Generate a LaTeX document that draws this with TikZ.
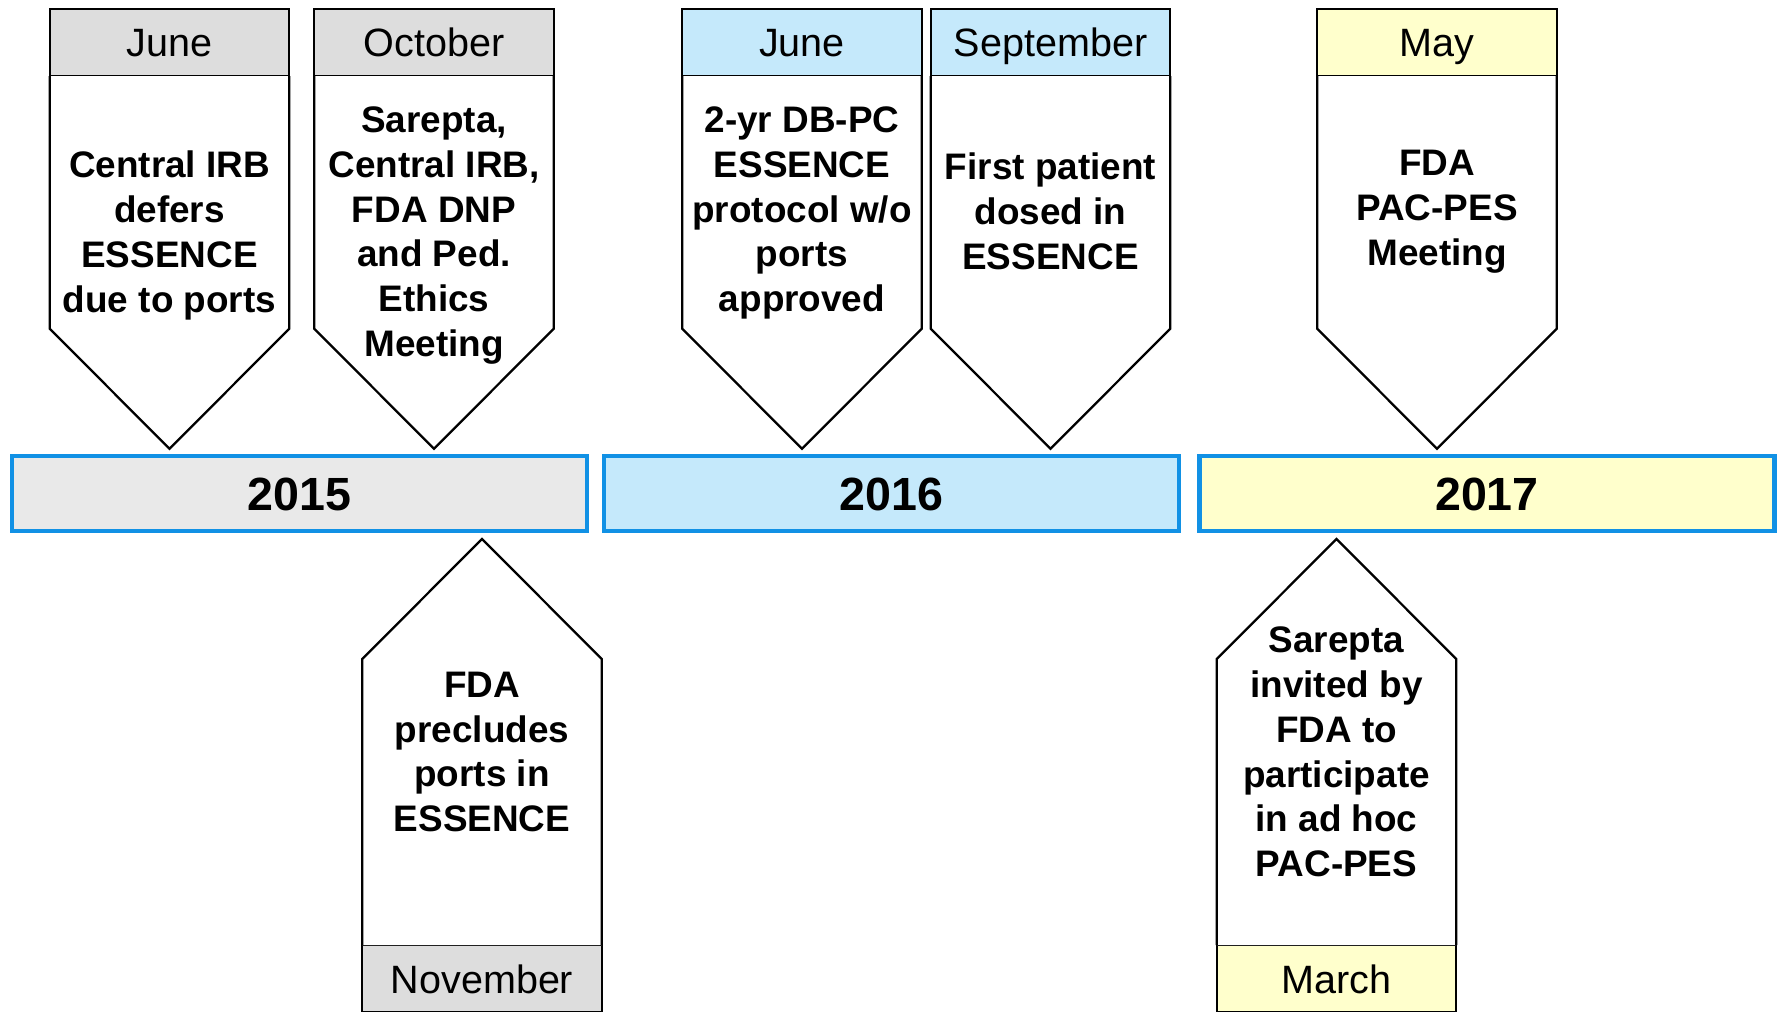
\documentclass[tikz,border=0pt]{standalone}
\usepackage{fontspec}
\setmainfont{Liberation Sans}
\usetikzlibrary{positioning,calc}
\definecolor{greyhead}{RGB}{221,221,221}
\definecolor{greybar}{RGB}{233,233,233}
\definecolor{bluehead}{RGB}{197,233,251}
\definecolor{yellowhead}{RGB}{255,255,204}
\definecolor{barline}{RGB}{17,145,229}
\tikzset{
    month/.style={rectangle, draw=black, line width=1.3pt, minimum width=4.79cm, minimum height=1.35cm, inner sep=0pt, outer sep=0pt, text height=0.57cm, text depth=0cm, font=\fontsize{22.5}{27}\selectfont},
    yearbar/.style={rectangle, draw=barline, line width=2.5pt, minimum width=11.5cm, minimum height=1.5cm, inner sep=0pt, text height=0.67cm, text depth=0cm, font=\fontsize{26.5}{32}\selectfont\bfseries},
    event/.style={align=center, inner sep=0pt, font=\fontsize{21}{25.5}\selectfont\bfseries},
    flag/.style={draw=black, line width=1.3pt, fill=white, line join=miter}
}

\begin{document}
\begin{tikzpicture}
    \useasboundingbox (0,0) rectangle (35.58,20.22);

    % Years
    \node [yearbar, fill=greybar] (y2015) at (5.99,10.35) {2015};
    \node [yearbar, fill=bluehead] (y2016) at (17.83,10.35) {2016};
    \node [yearbar, fill=yellowhead] (y2017) at (29.74,10.35) {2017};

    % Events above the timeline
    \node [month, fill=greyhead] (jun15) at (3.39,19.37) {June};
    \draw [flag] (jun15.south west) -- ++(0,-5.05) -- ++(2.395,-2.4) -- ++(2.395,2.4) -- (jun15.south east);
    \node [event] (irb) at (3.39,15.51) {Central IRB\\defers\\ESSENCE\\due to ports};

    \node [month, fill=greyhead] (oct15) at (8.68,19.37) {October};
    \draw [flag] (oct15.south west) -- ++(0,-5.05) -- ++(2.395,-2.4) -- ++(2.395,2.4) -- (oct15.south east);
    \node [event] (ethics) at (8.68,15.51) {Sarepta,\\Central IRB,\\FDA DNP\\and Ped.\\Ethics\\Meeting};

    \node [month, fill=bluehead] (jun16) at (16.04,19.37) {June};
    \draw [flag] (jun16.south west) -- ++(0,-5.05) -- ++(2.395,-2.4) -- ++(2.395,2.4) -- (jun16.south east);
    \node [event] (protocol) at (16.04,15.96) {2-yr DB-PC\\ESSENCE\\protocol w/o\\ports\\approved};

    \node [month, fill=bluehead] (sep16) at (21.01,19.37) {September};
    \draw [flag] (sep16.south west) -- ++(0,-5.05) -- ++(2.395,-2.4) -- ++(2.395,2.4) -- (sep16.south east);
    \node [event] (dosed) at (21.01,15.99) {First patient\\dosed in\\ESSENCE};

    \node [month, fill=yellowhead] (may17) at (28.74,19.37) {May};
    \draw [flag] (may17.south west) -- ++(0,-5.05) -- ++(2.395,-2.4) -- ++(2.395,2.4) -- (may17.south east);
    \node [event] (pacmeet) at (28.74,15.99) {FDA\\PAC-PES\\Meeting};

    % Events below the timeline
    \node [month, fill=greyhead] (nov15) at (9.64,0.645) {November};
    \draw [flag] (nov15.north west) -- ++(0,5.72) -- ++(2.395,2.4) -- ++(2.395,-2.4) -- (nov15.north east);
    \node [event] (precl) at (9.64,5.18) {FDA\\precludes\\ports in\\ESSENCE};

    \node [month, fill=yellowhead] (mar17) at (26.73,0.645) {March};
    \draw [flag] (mar17.north west) -- ++(0,5.72) -- ++(2.395,2.4) -- ++(2.395,-2.4) -- (mar17.north east);
    \node [event] (invite) at (26.73,5.18) {Sarepta\\invited by\\FDA to\\participate\\in ad hoc\\PAC-PES};
\end{tikzpicture}
\end{document}
